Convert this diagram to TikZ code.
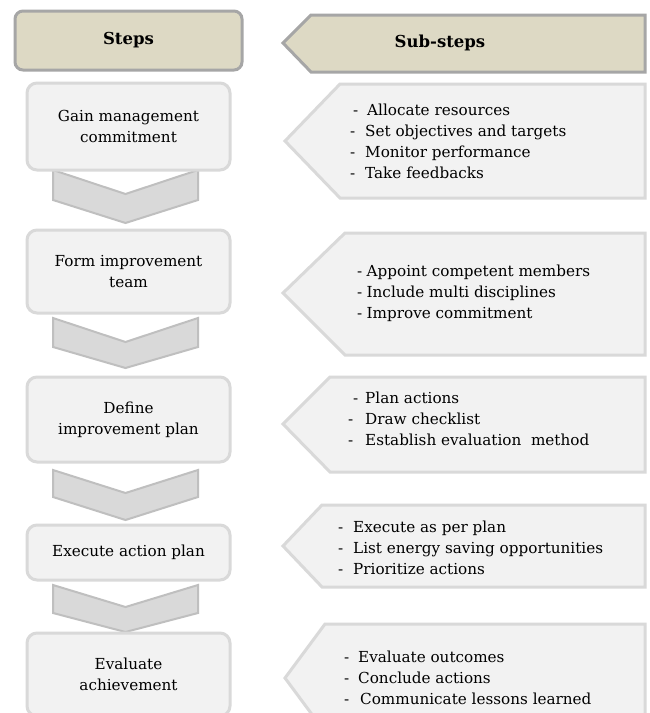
\documentclass[tikz,border=0pt]{standalone}
\usepackage{fontspec}
\setmainfont{DejaVu Serif}
\definecolor{hdrfill}{HTML}{DDD9C4}
\definecolor{hdrline}{HTML}{A6A6A6}
\definecolor{boxfill}{HTML}{F2F2F2}
\definecolor{boxline}{HTML}{D9D9D9}
\definecolor{chevfill}{HTML}{D9D9D9}
\definecolor{chevline}{HTML}{BFBFBF}
\newcommand\stxt{\fontsize{15.2}{21}\selectfont}
\newcommand\shdr{\fontsize{16.5}{19}\selectfont\bfseries}
\newcommand\sline[3]{\hspace*{#1pt}\makebox[#2pt][l]{-}#3}
\newcommand\chevron[4]{\draw[chev] (53,#1) -- (125.5,#2) -- (198,#1) -- (198,#3) -- (125.5,#4) -- (53,#3) -- cycle;}
\newcommand\subarrow[5]{\draw[subbox] (#3,#4) -- (#5,#1) -- (645,#1) -- (645,#2) -- (#5,#2) -- cycle;}
\begin{document}
\begin{tikzpicture}[x=1pt,y=-1pt,
  hdr/.style={fill=hdrfill,draw=hdrline,line width=3pt},
  stepbox/.style={draw=boxline,fill=boxfill,line width=3pt,rounded corners=10pt,minimum width=203pt,inner sep=0pt,align=center,font=\stxt},
  subbox/.style={draw=boxline,fill=boxfill,line width=3pt,line join=miter},
  chev/.style={fill=chevfill,draw=chevline,line width=2pt,line join=miter},
  subtxt/.style={anchor=west,inner sep=0pt,align=left,font=\stxt}]
\useasboundingbox (0,0) rectangle (649,713);
\fill[white] (0,0) rectangle (649,713);
% headers
\node[hdr,rounded corners=8pt,minimum width=227pt,minimum height=59pt,font=\shdr] (steps) at (128.5,40.5) {Steps};
\draw[hdr,line join=miter] (283,43) -- (311,15) -- (645,15) -- (645,72) -- (311,72) -- cycle;
\node[font=\shdr,inner sep=0pt] (substeps) at (440,43) {Sub-steps};
% chevrons
\chevron{170}{194}{200}{223}
\chevron{318}{342}{347}{368}
\chevron{470}{493}{497}{520}
\chevron{585}{607}{613}{632}
% step boxes
\node[stepbox,minimum height=87pt] (gain) at (128.5,126.5) {Gain management\\commitment};
\node[stepbox,minimum height=83pt] (form) at (128.5,271.5) {Form improvement\\team};
\node[stepbox,minimum height=85pt] (define) at (128.5,419.5) {Define\\improvement plan};
\node[stepbox,minimum height=55pt] (exec) at (128.5,552.5) {Execute action plan};
\node[stepbox,minimum height=83pt] (eval) at (128.5,674.5) {Evaluate\\achievement};
% sub-step arrows
\subarrow{84}{198}{285}{141}{340}
\subarrow{233}{355}{283}{293}{345}
\subarrow{377}{472}{283}{424}{330}
\subarrow{505}{587}{283}{546}{322}
\subarrow{624}{732}{285}{678}{325}
% sub-step texts
\node[subtxt] (s1) at (350,141.5) {\sline{3}{14}{Allocate resources}\\\sline{0}{15}{Set objectives and targets}\\\sline{0}{15}{Monitor performance}\\\sline{0}{15}{Take feedbacks}};
\node[subtxt] (s2) at (357,293) {\sline{0}{9.5}{Appoint competent members}\\\sline{0}{9.5}{Include multi disciplines}\\\sline{0}{9.5}{Improve commitment}};
\node[subtxt] (s3) at (348,419) {\sline{5}{12}{Plan actions}\\\sline{0}{17}{Draw checklist}\\\sline{0}{17}{Establish evaluation\ \ method}};
\node[subtxt] (s4) at (338,547.5) {\sline{0}{15}{Execute as per plan}\\\sline{0}{15}{List energy saving opportunities}\\\sline{0}{15}{Prioritize actions}};
\node[subtxt] (s5) at (344,678) {\sline{0}{14}{Evaluate outcomes}\\\sline{0}{14}{Conclude actions}\\\sline{0}{16}{Communicate lessons learned}};
\end{tikzpicture}
\end{document}
